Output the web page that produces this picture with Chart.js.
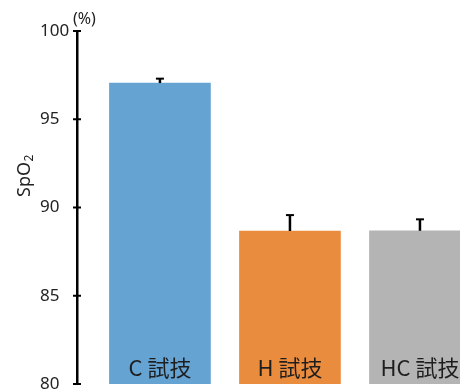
<!DOCTYPE html>
<html>
<head>
<meta charset="utf-8">
<script src="https://cdn.jsdelivr.net/npm/chart.js@4"></script>
<style>
  html, body { margin: 0; padding: 0; background: #fff; overflow: hidden; }
  #wrap { width: 460px; height: 391px; position: relative; }
</style>
</head>
<body>
<div id="wrap"><canvas id="c"></canvas></div>
<script>
// Trial conditions and mean SpO2 (%) with upward error bars
const categories = ['C 試技', 'H 試技', 'HC 試技'];
const spo2Mean = [97.05, 88.67, 88.68];
const spo2Err = [0.25, 0.9, 0.65];
const barColors = ['#65A3D3', '#EA8C3E', '#B4B4B4'];
const yTickValues = [80, 85, 90, 95, 100];

const positions = categories.map((_, i) => i + 1);
const points = positions.map((x, i) => ({ x, y: spo2Mean[i] }));

const tickFont = '"Noto Sans"';
const cjkFont = '"Noto Sans CJK JP"';

// Error bars, axis tick crosses, category captions, unit and axis title
const decorations = {
  id: 'decorations',
  afterDatasetsDraw(chart) {
    const { ctx, scales: { x, y }, chartArea } = chart;
    ctx.save();
    ctx.strokeStyle = '#000';
    positions.forEach((p, i) => {
      const px = x.getPixelForValue(p);
      const top = y.getPixelForValue(spo2Mean[i] + spo2Err[i]);
      const base = y.getPixelForValue(spo2Mean[i]);
      ctx.lineWidth = 2.5;
      ctx.beginPath();
      ctx.moveTo(px, base);
      ctx.lineTo(px, top);
      ctx.stroke();
      ctx.lineWidth = 2;
      ctx.beginPath();
      ctx.moveTo(px - 4, top);
      ctx.lineTo(px + 4, top);
      ctx.stroke();
    });
    ctx.lineWidth = 2;
    y.ticks.forEach(t => {
      const py = y.getPixelForValue(t.value);
      ctx.beginPath();
      ctx.moveTo(chartArea.left - 4, py);
      ctx.lineTo(chartArea.left + 4, py);
      ctx.stroke();
    });
    ctx.fillStyle = '#1e1e1e';
    ctx.font = '22px ' + cjkFont;
    ctx.textAlign = 'center';
    ctx.textBaseline = 'middle';
    positions.forEach((p, i) => {
      ctx.fillText(categories[i], x.getPixelForValue(p), 368);
    });
    ctx.font = '16px ' + tickFont;
    ctx.fillStyle = '#222';
    ctx.textAlign = 'left';
    ctx.fillText('(%)', chartArea.left - 4, 19);
    // vertical axis title, reading bottom to top
    ctx.translate(30, 176);
    ctx.rotate(-Math.PI / 2);
    ctx.textBaseline = 'alphabetic';
    const main = 'SpO';
    ctx.font = '18px ' + tickFont;
    const w1 = ctx.measureText(main).width;
    ctx.font = '12px ' + tickFont;
    const w2 = ctx.measureText('2').width;
    const start = -(w1 + w2) / 2;
    ctx.font = '18px ' + tickFont;
    ctx.fillText(main, start, 0);
    ctx.font = '12px ' + tickFont;
    ctx.fillText('2', start + w1 + 0.5, 3);
    ctx.restore();
  }
};

new Chart(document.getElementById('c'), {
  type: 'bar',
  data: {
    datasets: [{
      data: points,
      backgroundColor: barColors,
      borderWidth: 0,
      barThickness: 101
    }]
  },
  options: {
    responsive: true,
    maintainAspectRatio: false,
    animation: false,
    layout: { padding: { top: 31, right: 0, bottom: 7, left: 40 } },
    plugins: { legend: { display: false }, tooltip: { enabled: false } },
    scales: {
      x: {
        type: 'linear',
        display: false,
        offset: false,
        min: 0.362,
        max: 3.308
      },
      y: {
        min: 80,
        max: 100,
        afterBuildTicks: (s) => { s.ticks = yTickValues.map(v => ({ value: v })); },
        afterFit: (s) => { s.width = 37; s.paddingTop = 0; s.paddingBottom = 0; },
        grid: { display: false },
        border: { display: true, color: '#000', width: 2.5 },
        ticks: {
          padding: 10,
          crossAlign: 'far',
          color: '#222',
          font: { family: tickFont, size: 17 }
        }
      }
    }
  },
  plugins: [decorations]
});
</script>
</body>
</html>
